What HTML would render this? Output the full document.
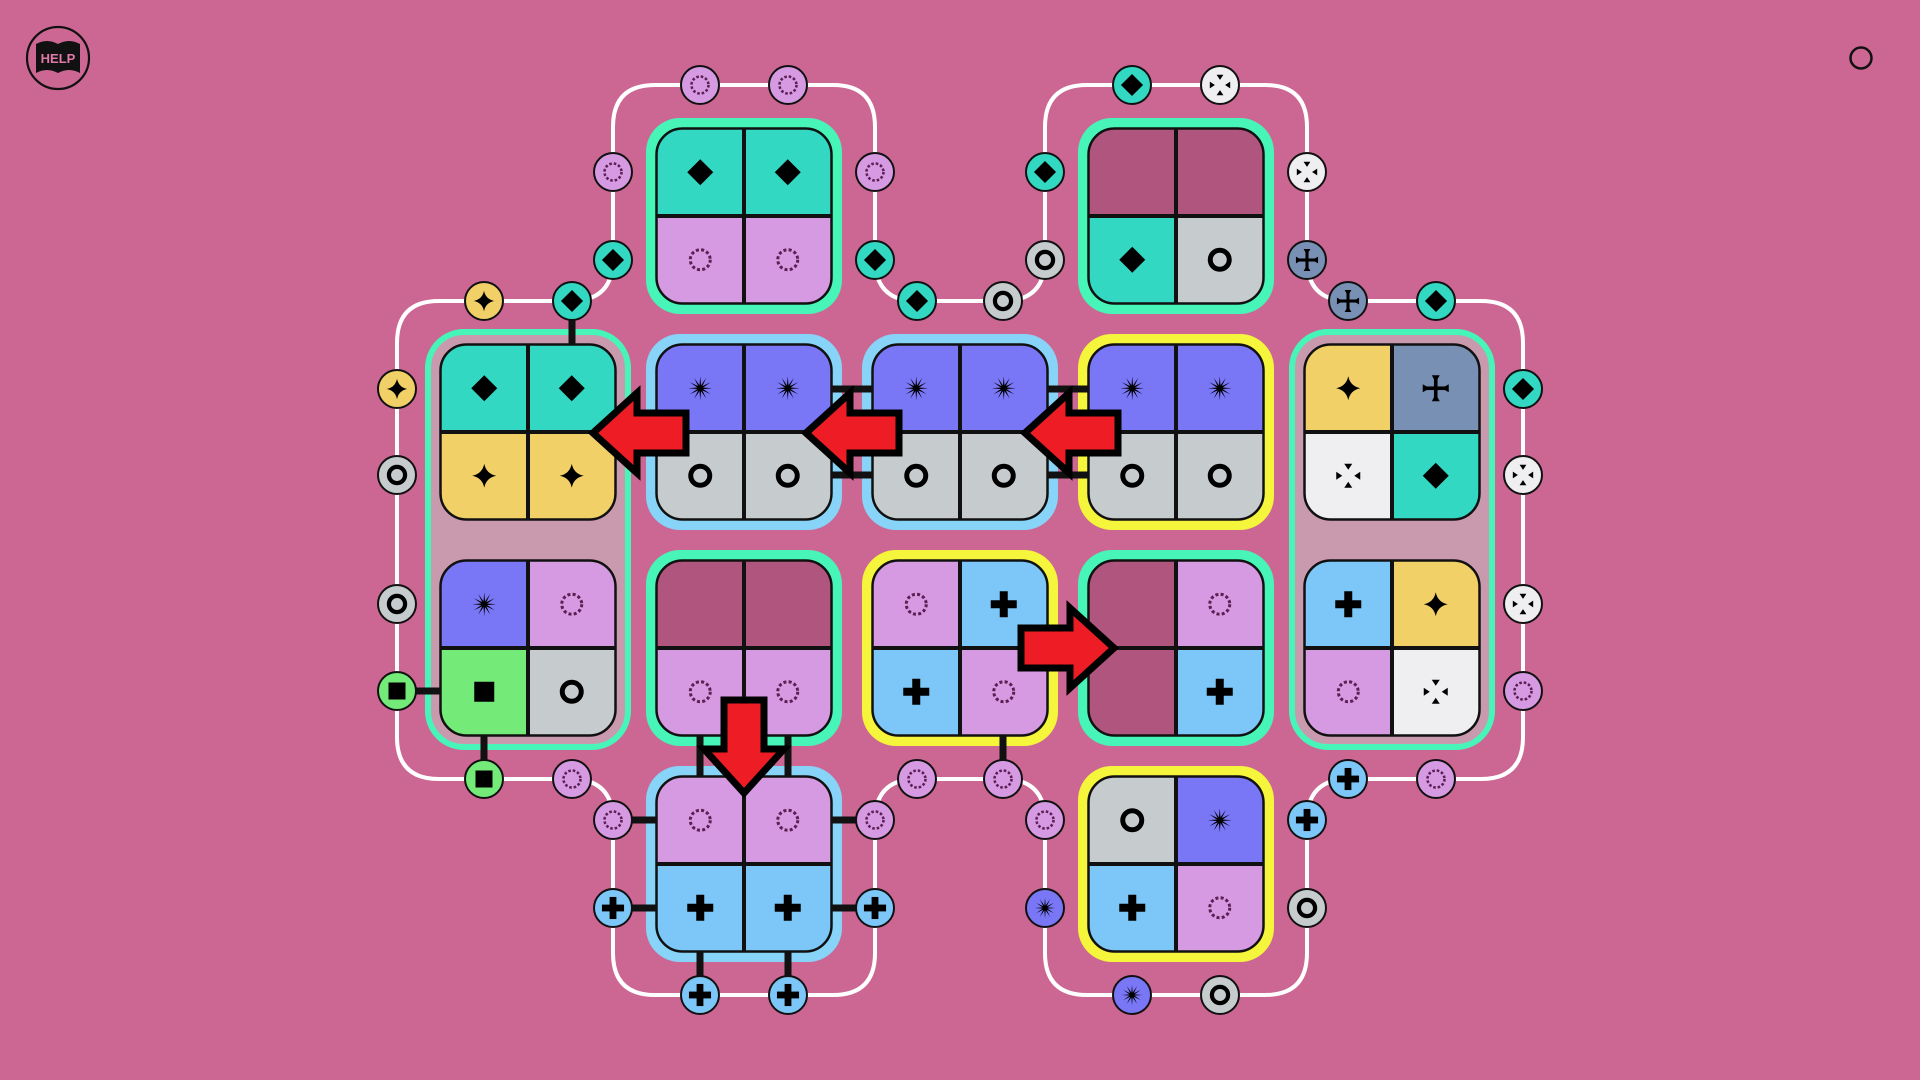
<!DOCTYPE html>
<html><head><meta charset="utf-8"><style>html,body{margin:0;padding:0;background:#cc6794;}svg{display:block}</style></head>
<body>
<svg width="1920" height="1080" viewBox="0 0 1920 1080" xmlns="http://www.w3.org/2000/svg">
<defs>
<clipPath id="rr" clipPathUnits="objectBoundingBox"><rect x="0" y="0" width="1" height="1" rx="0.15" ry="0.15"/></clipPath>
<g id="frame"><rect x="-87.5" y="-87.5" width="175" height="175" rx="26" fill="none" stroke="#111" stroke-width="2.5"/><line x1="0" y1="-87.5" x2="0" y2="87.5" stroke="#111" stroke-width="4"/><line x1="-87.5" y1="0" x2="87.5" y2="0" stroke="#111" stroke-width="4"/></g>
<polygon id="dia" points="0,-13 13,0 0,13 -13,0" fill="#000"/>
<path id="star" d="M0,-12 Q2,-2 12,0 Q2,2 0,12 Q-2,2 -12,0 Q-2,-2 0,-12Z" fill="#000"/>
<polygon id="burst" fill="#000" points="12,0 2.9,0.78 10.39,6 2.12,2.12 6,10.39 0.78,2.9 0,12 -0.78,2.9 -6,10.39 -2.12,2.12 -10.39,6 -2.9,0.78 -12,0 -2.9,-0.78 -10.39,-6 -2.12,-2.12 -6,-10.39 -0.78,-2.9 0,-12 0.78,-2.9 6,-10.39 2.12,-2.12 10.39,-6 2.9,-0.78"/>
<circle id="ring" r="9.5" fill="none" stroke="#000" stroke-width="5"/>
<g id="plus"><rect x="-4" y="-13" width="8" height="26" fill="#000"/><rect x="-13" y="-4" width="26" height="8" fill="#000"/></g>
<circle id="dotc" r="10" fill="none" stroke="#5a2052" stroke-width="3" stroke-dasharray="3 2.3"/>
<rect id="sq" x="-10" y="-10" width="20" height="20" fill="#000"/>
<g id="xd" fill="#000"><polygon points="-4,-12 4,-12 0,-6"/><polygon points="-4,12 4,12 0,6"/><polygon points="-12,-4 -12,4 -6,0"/><polygon points="12,-4 12,4 6,0"/></g>
<g id="cross" fill="#000"><rect x="-1.8" y="-12" width="3.6" height="24"/><rect x="-12" y="-1.8" width="24" height="3.6"/><polygon points="-4,-13 4,-13 0,-6"/><polygon points="-4,13 4,13 0,6"/><polygon points="-13,-4 -13,4 -6,0"/><polygon points="13,-4 13,4 6,0"/></g>
</defs>

<!-- help -->
<circle cx="58" cy="58" r="31" fill="none" stroke="#111" stroke-width="2.2"/>
<path d="M36,44 Q47,38 58,44 Q69,38 80,44 L80,73 Q69,67 58,73 Q47,67 36,73 Z" fill="#111"/>
<text x="58" y="63" font-family="Liberation Sans, sans-serif" font-weight="bold" font-size="13" fill="#e07aa8" text-anchor="middle">HELP</text>
<circle cx="1861" cy="58" r="10.5" fill="none" stroke="#111" stroke-width="2.5"/>

<!-- loop -->
<path d="M397,343 Q397,301 439,301 L571,301 Q613,301 613,259 L613,127 Q613,85 655,85 L833,85 Q875,85 875,127 L875,259 Q875,301 917,301 L1003,301 Q1045,301 1045,259 L1045,127 Q1045,85 1087,85 L1265,85 Q1307,85 1307,127 L1307,259 Q1307,301 1349,301 L1481,301 Q1523,301 1523,343 L1523,737 Q1523,779 1481,779 L1349,779 Q1307,779 1307,821 L1307,953 Q1307,995 1265,995 L1087,995 Q1045,995 1045,953 L1045,821 Q1045,779 1003,779 L917,779 Q875,779 875,821 L875,953 Q875,995 833,995 L655,995 Q613,995 613,953 L613,821 Q613,779 571,779 L439,779 Q397,779 397,737 Z" fill="none" stroke="#fff" stroke-width="4"/>

<!-- groups -->
<rect x="428" y="332" width="200" height="415" rx="36" fill="#c99aae" stroke="#46f5b7" stroke-width="6"/>
<rect x="1292" y="332" width="200" height="415" rx="36" fill="#c99aae" stroke="#46f5b7" stroke-width="6"/>

<!-- tiles -->
<g transform="translate(744,216)"><rect x="-98" y="-98" width="196" height="196" rx="34" fill="#46f5b7"/><g clip-path="url(#rr)"><rect x="-87.5" y="-87.5" width="87.5" height="87.5" fill="#33d8c2"/><rect x="0" y="-87.5" width="87.5" height="87.5" fill="#33d8c2"/><rect x="-87.5" y="0" width="87.5" height="87.5" fill="#d69ae2"/><rect x="0" y="0" width="87.5" height="87.5" fill="#d69ae2"/></g><use href="#frame"/><use href="#dia" x="-43.75" y="-43.75"/><use href="#dia" x="43.75" y="-43.75"/><use href="#dotc" x="-43.75" y="43.75"/><use href="#dotc" x="43.75" y="43.75"/></g>

<g transform="translate(1176,216)"><rect x="-98" y="-98" width="196" height="196" rx="34" fill="#46f5b7"/><g clip-path="url(#rr)"><rect x="-87.5" y="-87.5" width="87.5" height="87.5" fill="#b0567e"/><rect x="0" y="-87.5" width="87.5" height="87.5" fill="#b0567e"/><rect x="-87.5" y="0" width="87.5" height="87.5" fill="#33d8c2"/><rect x="0" y="0" width="87.5" height="87.5" fill="#c6cccd"/></g><use href="#frame"/><use href="#dia" x="-43.75" y="43.75"/><use href="#ring" x="43.75" y="43.75"/></g>

<g transform="translate(528,432)"><g clip-path="url(#rr)"><rect x="-87.5" y="-87.5" width="87.5" height="87.5" fill="#33d8c2"/><rect x="0" y="-87.5" width="87.5" height="87.5" fill="#33d8c2"/><rect x="-87.5" y="0" width="87.5" height="87.5" fill="#f2d068"/><rect x="0" y="0" width="87.5" height="87.5" fill="#f2d068"/></g><use href="#frame"/><use href="#dia" x="-43.75" y="-43.75"/><use href="#dia" x="43.75" y="-43.75"/><use href="#star" x="-43.75" y="43.75"/><use href="#star" x="43.75" y="43.75"/></g>

<g transform="translate(528,648)"><g clip-path="url(#rr)"><rect x="-87.5" y="-87.5" width="87.5" height="87.5" fill="#7a77f7"/><rect x="0" y="-87.5" width="87.5" height="87.5" fill="#d69ae2"/><rect x="-87.5" y="0" width="87.5" height="87.5" fill="#74ea78"/><rect x="0" y="0" width="87.5" height="87.5" fill="#c6cccd"/></g><use href="#frame"/><use href="#burst" x="-43.75" y="-43.75"/><use href="#dotc" x="43.75" y="-43.75"/><use href="#sq" x="-43.75" y="43.75"/><use href="#ring" x="43.75" y="43.75"/></g>

<g transform="translate(744,432)"><rect x="-98" y="-98" width="196" height="196" rx="34" fill="#88d4f8"/><g clip-path="url(#rr)"><rect x="-87.5" y="-87.5" width="87.5" height="87.5" fill="#7a77f7"/><rect x="0" y="-87.5" width="87.5" height="87.5" fill="#7a77f7"/><rect x="-87.5" y="0" width="87.5" height="87.5" fill="#c6cccd"/><rect x="0" y="0" width="87.5" height="87.5" fill="#c6cccd"/></g><use href="#frame"/><use href="#burst" x="-43.75" y="-43.75"/><use href="#burst" x="43.75" y="-43.75"/><use href="#ring" x="-43.75" y="43.75"/><use href="#ring" x="43.75" y="43.75"/></g>

<g transform="translate(960,432)"><rect x="-98" y="-98" width="196" height="196" rx="34" fill="#88d4f8"/><g clip-path="url(#rr)"><rect x="-87.5" y="-87.5" width="87.5" height="87.5" fill="#7a77f7"/><rect x="0" y="-87.5" width="87.5" height="87.5" fill="#7a77f7"/><rect x="-87.5" y="0" width="87.5" height="87.5" fill="#c6cccd"/><rect x="0" y="0" width="87.5" height="87.5" fill="#c6cccd"/></g><use href="#frame"/><use href="#burst" x="-43.75" y="-43.75"/><use href="#burst" x="43.75" y="-43.75"/><use href="#ring" x="-43.75" y="43.75"/><use href="#ring" x="43.75" y="43.75"/></g>

<g transform="translate(1176,432)"><rect x="-98" y="-98" width="196" height="196" rx="34" fill="#f5f53c"/><g clip-path="url(#rr)"><rect x="-87.5" y="-87.5" width="87.5" height="87.5" fill="#7a77f7"/><rect x="0" y="-87.5" width="87.5" height="87.5" fill="#7a77f7"/><rect x="-87.5" y="0" width="87.5" height="87.5" fill="#c6cccd"/><rect x="0" y="0" width="87.5" height="87.5" fill="#c6cccd"/></g><use href="#frame"/><use href="#burst" x="-43.75" y="-43.75"/><use href="#burst" x="43.75" y="-43.75"/><use href="#ring" x="-43.75" y="43.75"/><use href="#ring" x="43.75" y="43.75"/></g>

<g transform="translate(1392,432)"><g clip-path="url(#rr)"><rect x="-87.5" y="-87.5" width="87.5" height="87.5" fill="#f2d068"/><rect x="0" y="-87.5" width="87.5" height="87.5" fill="#7990b5"/><rect x="-87.5" y="0" width="87.5" height="87.5" fill="#efeef0"/><rect x="0" y="0" width="87.5" height="87.5" fill="#33d8c2"/></g><use href="#frame"/><use href="#star" x="-43.75" y="-43.75"/><use href="#cross" x="43.75" y="-43.75"/><use href="#xd" x="-43.75" y="43.75"/><use href="#dia" x="43.75" y="43.75"/></g>

<g transform="translate(1392,648)"><g clip-path="url(#rr)"><rect x="-87.5" y="-87.5" width="87.5" height="87.5" fill="#7cc7f7"/><rect x="0" y="-87.5" width="87.5" height="87.5" fill="#f2d068"/><rect x="-87.5" y="0" width="87.5" height="87.5" fill="#d69ae2"/><rect x="0" y="0" width="87.5" height="87.5" fill="#efeef0"/></g><use href="#frame"/><use href="#plus" x="-43.75" y="-43.75"/><use href="#star" x="43.75" y="-43.75"/><use href="#dotc" x="-43.75" y="43.75"/><use href="#xd" x="43.75" y="43.75"/></g>

<g transform="translate(744,648)"><rect x="-98" y="-98" width="196" height="196" rx="34" fill="#46f5b7"/><g clip-path="url(#rr)"><rect x="-87.5" y="-87.5" width="87.5" height="87.5" fill="#b0567e"/><rect x="0" y="-87.5" width="87.5" height="87.5" fill="#b0567e"/><rect x="-87.5" y="0" width="87.5" height="87.5" fill="#d69ae2"/><rect x="0" y="0" width="87.5" height="87.5" fill="#d69ae2"/></g><use href="#frame"/><use href="#dotc" x="-43.75" y="43.75"/><use href="#dotc" x="43.75" y="43.75"/></g>

<g transform="translate(960,648)"><rect x="-98" y="-98" width="196" height="196" rx="34" fill="#f5f53c"/><g clip-path="url(#rr)"><rect x="-87.5" y="-87.5" width="87.5" height="87.5" fill="#d69ae2"/><rect x="0" y="-87.5" width="87.5" height="87.5" fill="#7cc7f7"/><rect x="-87.5" y="0" width="87.5" height="87.5" fill="#7cc7f7"/><rect x="0" y="0" width="87.5" height="87.5" fill="#d69ae2"/></g><use href="#frame"/><use href="#dotc" x="-43.75" y="-43.75"/><use href="#plus" x="43.75" y="-43.75"/><use href="#plus" x="-43.75" y="43.75"/><use href="#dotc" x="43.75" y="43.75"/></g>

<g transform="translate(1176,648)"><rect x="-98" y="-98" width="196" height="196" rx="34" fill="#46f5b7"/><g clip-path="url(#rr)"><rect x="-87.5" y="-87.5" width="87.5" height="87.5" fill="#b0567e"/><rect x="0" y="-87.5" width="87.5" height="87.5" fill="#d69ae2"/><rect x="-87.5" y="0" width="87.5" height="87.5" fill="#b0567e"/><rect x="0" y="0" width="87.5" height="87.5" fill="#7cc7f7"/></g><use href="#frame"/><use href="#dotc" x="43.75" y="-43.75"/><use href="#plus" x="43.75" y="43.75"/></g>

<g transform="translate(744,864)"><rect x="-98" y="-98" width="196" height="196" rx="34" fill="#88d4f8"/><g clip-path="url(#rr)"><rect x="-87.5" y="-87.5" width="87.5" height="87.5" fill="#d69ae2"/><rect x="0" y="-87.5" width="87.5" height="87.5" fill="#d69ae2"/><rect x="-87.5" y="0" width="87.5" height="87.5" fill="#7cc7f7"/><rect x="0" y="0" width="87.5" height="87.5" fill="#7cc7f7"/></g><use href="#frame"/><use href="#dotc" x="-43.75" y="-43.75"/><use href="#dotc" x="43.75" y="-43.75"/><use href="#plus" x="-43.75" y="43.75"/><use href="#plus" x="43.75" y="43.75"/></g>

<g transform="translate(1176,864)"><rect x="-98" y="-98" width="196" height="196" rx="34" fill="#f5f53c"/><g clip-path="url(#rr)"><rect x="-87.5" y="-87.5" width="87.5" height="87.5" fill="#c6cccd"/><rect x="0" y="-87.5" width="87.5" height="87.5" fill="#7a77f7"/><rect x="-87.5" y="0" width="87.5" height="87.5" fill="#7cc7f7"/><rect x="0" y="0" width="87.5" height="87.5" fill="#d69ae2"/></g><use href="#frame"/><use href="#ring" x="-43.75" y="-43.75"/><use href="#burst" x="43.75" y="-43.75"/><use href="#plus" x="-43.75" y="43.75"/><use href="#dotc" x="43.75" y="43.75"/></g>

<!-- stubs -->
<g stroke="#111" stroke-width="7">
<line x1="572" y1="318" x2="572" y2="345"/>
<line x1="414" y1="691" x2="441" y2="691"/>
<line x1="484" y1="762" x2="484" y2="735"/>
<line x1="700" y1="735" x2="700" y2="777"/>
<line x1="788" y1="735" x2="788" y2="777"/>
<line x1="630" y1="820" x2="657" y2="820"/>
<line x1="630" y1="908" x2="657" y2="908"/>
<line x1="858" y1="820" x2="831" y2="820"/>
<line x1="858" y1="908" x2="831" y2="908"/>
<line x1="700" y1="978" x2="700" y2="951"/>
<line x1="788" y1="978" x2="788" y2="951"/>
<line x1="831" y1="389" x2="873" y2="389"/>
<line x1="831" y1="475" x2="873" y2="475"/>
<line x1="1047" y1="389" x2="1089" y2="389"/>
<line x1="1047" y1="475" x2="1089" y2="475"/>
<line x1="1003" y1="735" x2="1003" y2="762"/>
</g>

<!-- tokens -->
<g stroke="#111" stroke-width="2">
<circle cx="700" cy="85" r="19" fill="#d69ae2"/><circle cx="788" cy="85" r="19" fill="#d69ae2"/>
<circle cx="613" cy="172" r="19" fill="#d69ae2"/><circle cx="875" cy="172" r="19" fill="#d69ae2"/>
<circle cx="613" cy="260" r="19" fill="#33d8c2"/><circle cx="875" cy="260" r="19" fill="#33d8c2"/>
<circle cx="917" cy="301" r="19" fill="#33d8c2"/><circle cx="1003" cy="301" r="19" fill="#c6cccd"/>
<circle cx="1132" cy="85" r="19" fill="#33d8c2"/><circle cx="1220" cy="85" r="19" fill="#efeef0"/>
<circle cx="1045" cy="172" r="19" fill="#33d8c2"/><circle cx="1307" cy="172" r="19" fill="#efeef0"/>
<circle cx="1045" cy="260" r="19" fill="#c6cccd"/><circle cx="1307" cy="260" r="19" fill="#7990b5"/>
<circle cx="1348" cy="301" r="19" fill="#7990b5"/><circle cx="1436" cy="301" r="19" fill="#33d8c2"/>
<circle cx="1523" cy="389" r="19" fill="#33d8c2"/><circle cx="1523" cy="475" r="19" fill="#efeef0"/>
<circle cx="1523" cy="604" r="19" fill="#efeef0"/><circle cx="1523" cy="691" r="19" fill="#d69ae2"/>
<circle cx="1348" cy="779" r="19" fill="#7cc7f7"/><circle cx="1436" cy="779" r="19" fill="#d69ae2"/>
<circle cx="1307" cy="820" r="19" fill="#7cc7f7"/><circle cx="1307" cy="908" r="19" fill="#c6cccd"/>
<circle cx="1220" cy="995" r="19" fill="#c6cccd"/><circle cx="1132" cy="995" r="19" fill="#7a77f7"/>
<circle cx="1045" cy="908" r="19" fill="#7a77f7"/><circle cx="1045" cy="820" r="19" fill="#d69ae2"/>
<circle cx="1003" cy="779" r="19" fill="#d69ae2"/><circle cx="917" cy="779" r="19" fill="#d69ae2"/>
<circle cx="875" cy="820" r="19" fill="#d69ae2"/><circle cx="875" cy="908" r="19" fill="#7cc7f7"/>
<circle cx="788" cy="995" r="19" fill="#7cc7f7"/><circle cx="700" cy="995" r="19" fill="#7cc7f7"/>
<circle cx="613" cy="908" r="19" fill="#7cc7f7"/><circle cx="613" cy="820" r="19" fill="#d69ae2"/>
<circle cx="572" cy="779" r="19" fill="#d69ae2"/><circle cx="484" cy="779" r="19" fill="#74ea78"/>
<circle cx="397" cy="691" r="19" fill="#74ea78"/><circle cx="397" cy="604" r="19" fill="#c6cccd"/>
<circle cx="397" cy="475" r="19" fill="#c6cccd"/><circle cx="397" cy="389" r="19" fill="#f2d068"/>
<circle cx="484" cy="301" r="19" fill="#f2d068"/><circle cx="572" cy="301" r="19" fill="#33d8c2"/>
</g>
<g>
<use href="#dotc" transform="translate(700,85) scale(.85)"/><use href="#dotc" transform="translate(788,85) scale(.85)"/>
<use href="#dotc" transform="translate(613,172) scale(.85)"/><use href="#dotc" transform="translate(875,172) scale(.85)"/>
<use href="#dia" transform="translate(613,260) scale(.85)"/><use href="#dia" transform="translate(875,260) scale(.85)"/>
<use href="#dia" transform="translate(917,301) scale(.85)"/><use href="#ring" transform="translate(1003,301) scale(.85)"/>
<use href="#dia" transform="translate(1132,85) scale(.85)"/><use href="#xd" transform="translate(1220,85) scale(.85)"/>
<use href="#dia" transform="translate(1045,172) scale(.85)"/><use href="#xd" transform="translate(1307,172) scale(.85)"/>
<use href="#ring" transform="translate(1045,260) scale(.85)"/><use href="#cross" transform="translate(1307,260) scale(.85)"/>
<use href="#cross" transform="translate(1348,301) scale(.85)"/><use href="#dia" transform="translate(1436,301) scale(.85)"/>
<use href="#dia" transform="translate(1523,389) scale(.85)"/><use href="#xd" transform="translate(1523,475) scale(.85)"/>
<use href="#xd" transform="translate(1523,604) scale(.85)"/><use href="#dotc" transform="translate(1523,691) scale(.85)"/>
<use href="#plus" transform="translate(1348,779) scale(.85)"/><use href="#dotc" transform="translate(1436,779) scale(.85)"/>
<use href="#plus" transform="translate(1307,820) scale(.85)"/><use href="#ring" transform="translate(1307,908) scale(.85)"/>
<use href="#ring" transform="translate(1220,995) scale(.85)"/><use href="#burst" transform="translate(1132,995) scale(.85)"/>
<use href="#burst" transform="translate(1045,908) scale(.85)"/><use href="#dotc" transform="translate(1045,820) scale(.85)"/>
<use href="#dotc" transform="translate(1003,779) scale(.85)"/><use href="#dotc" transform="translate(917,779) scale(.85)"/>
<use href="#dotc" transform="translate(875,820) scale(.85)"/><use href="#plus" transform="translate(875,908) scale(.85)"/>
<use href="#plus" transform="translate(788,995) scale(.85)"/><use href="#plus" transform="translate(700,995) scale(.85)"/>
<use href="#plus" transform="translate(613,908) scale(.85)"/><use href="#dotc" transform="translate(613,820) scale(.85)"/>
<use href="#dotc" transform="translate(572,779) scale(.85)"/><use href="#sq" transform="translate(484,779) scale(.85)"/>
<use href="#sq" transform="translate(397,691) scale(.85)"/><use href="#ring" transform="translate(397,604) scale(.85)"/>
<use href="#ring" transform="translate(397,475) scale(.85)"/><use href="#star" transform="translate(397,389) scale(.85)"/>
<use href="#star" transform="translate(484,301) scale(.85)"/><use href="#dia" transform="translate(572,301) scale(.85)"/>
</g>

<!-- arrows -->
<g fill="#ee1c24" stroke="#000" stroke-width="7" stroke-linejoin="miter">
<polygon transform="translate(593,433)" points="0,0 44,-40 44,-20 93,-20 93,20 44,20 44,40"/>
<polygon transform="translate(806,433)" points="0,0 44,-40 44,-20 93,-20 93,20 44,20 44,40"/>
<polygon transform="translate(1025,433)" points="0,0 44,-40 44,-20 93,-20 93,20 44,20 44,40"/>
<polygon transform="translate(1114,648)" points="0,0 -44,-40 -44,-20 -93,-20 -93,20 -44,20 -44,40"/>
<polygon transform="translate(744,793)" points="0,0 -40,-44 -20,-44 -20,-93 20,-93 20,-44 40,-44"/>
</g>
</svg>
</body></html>
